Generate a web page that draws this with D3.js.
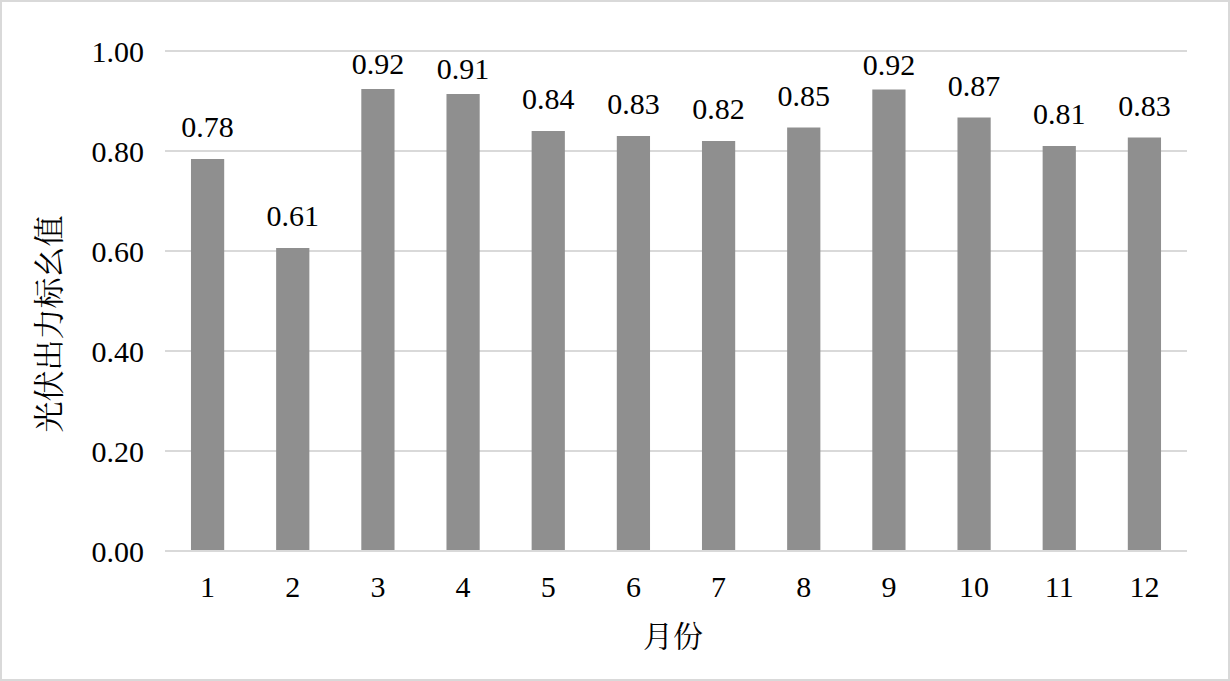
<!DOCTYPE html>
<html>
<head>
<meta charset="utf-8">
<script src="https://cdn.jsdelivr.net/npm/d3@7"></script>
<style>
  body { margin: 0; background: #fff; }
  text { fill: #000; }
</style>
</head>
<body>
<script>
const width = 1230;
const height = 681;

const months = ['1', '2', '3', '4', '5', '6', '7', '8', '9', '10', '11', '12'];
const values = [0.784, 0.606, 0.924, 0.914, 0.840, 0.830, 0.820, 0.847, 0.923, 0.867, 0.810, 0.827];
const y_ticks = [0, 0.2, 0.4, 0.6, 0.8, 1.0];

const margin = {left: 165, right: 43, top: 51, bottom: 130};
const serif = 'Liberation Serif';
const cjk = 'Noto Serif CJK SC';

const svg = d3.select('body')
    .append('svg')
    .attr('width', width)
    .attr('height', height);

svg.append('rect')
    .attr('x', 1)
    .attr('y', 1)
    .attr('width', width - 2)
    .attr('height', height - 2)
    .attr('fill', '#fff')
    .attr('stroke', '#d9d9d9')
    .attr('stroke-width', 2);

const x_scale = d3.scaleBand()
    .domain(months)
    .range([margin.left, width - margin.right])
    .paddingInner(0.61)
    .paddingOuter(0.305);

const y_scale = d3.scaleLinear()
    .domain([0, 1])
    .range([height - margin.bottom, margin.top]);

// gridlines
svg.append('g').selectAll('line')
    .data(y_ticks)
    .enter().append('line')
    .attr('x1', margin.left)
    .attr('x2', width - margin.right)
    .attr('y1', d => y_scale(d))
    .attr('y2', d => y_scale(d))
    .attr('stroke', '#d9d9d9')
    .attr('stroke-width', 2);

// y tick labels
svg.append('g').selectAll('text')
    .data(y_ticks)
    .enter().append('text')
    .attr('x', 144)
    .attr('y', d => y_scale(d))
    .attr('dy', '0.35em')
    .attr('text-anchor', 'end')
    .style('font-family', serif)
    .style('font-size', '30px')
    .text(d => d3.format('.2f')(d));

// bars
svg.append('g').selectAll('rect')
    .data(values)
    .enter().append('rect')
    .attr('x', (d, i) => x_scale(months[i]))
    .attr('y', d => y_scale(d))
    .attr('width', x_scale.bandwidth())
    .attr('height', d => y_scale(0) - y_scale(d))
    .attr('fill', '#8f8f8f');

// baseline over bars
svg.append('line')
    .attr('x1', margin.left)
    .attr('x2', width - margin.right)
    .attr('y1', y_scale(0))
    .attr('y2', y_scale(0))
    .attr('stroke', '#d9d9d9')
    .attr('stroke-width', 2);

// value labels (tall bars get theirs nudged down, like the original)
svg.append('g').selectAll('text')
    .data(values)
    .enter().append('text')
    .attr('x', (d, i) => x_scale(months[i]) + x_scale.bandwidth() / 2)
    .attr('y', d => y_scale(d) - (d > 0.9 ? 15 : 22))
    .attr('text-anchor', 'middle')
    .style('font-family', serif)
    .style('font-size', '30px')
    .text(d => d3.format('.2f')(d));

// x tick labels
svg.append('g').selectAll('text')
    .data(months)
    .enter().append('text')
    .attr('x', d => x_scale(d) + x_scale.bandwidth() / 2)
    .attr('y', 586)
    .attr('dy', '0.35em')
    .attr('text-anchor', 'middle')
    .style('font-family', serif)
    .style('font-size', '30px')
    .text(d => d);

// axis titles
svg.append('text')
    .attr('x', 673)
    .attr('y', 636)
    .attr('dy', '0.35em')
    .attr('text-anchor', 'middle')
    .style('font-family', cjk)
    .style('font-size', '30px')
    .text('月份');

svg.append('text')
    .attr('transform', 'translate(49,324) rotate(-90)')
    .attr('dy', '0.35em')
    .attr('text-anchor', 'middle')
    .style('font-family', cjk)
    .style('font-size', '31px')
    .text('光伏出力标幺值');
</script>
</body>
</html>
